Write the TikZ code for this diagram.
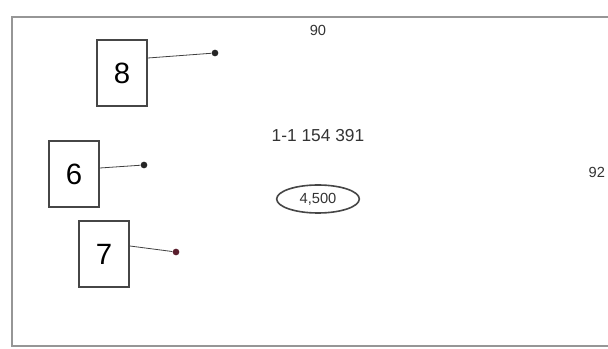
\documentclass[tikz,border=0pt]{standalone}
\usepackage{fontspec}
\setmainfont{Liberation Sans}
\usetikzlibrary{shapes.geometric}
\definecolor{frameGray}{RGB}{150,150,150}
\definecolor{boxGray}{RGB}{70,70,70}
\definecolor{dotRed}{RGB}{90,30,45}

\begin{document}
\begin{tikzpicture}[%
    x=0.75pt, y=-0.75pt,
    numbox/.style={
        draw=boxGray, line width=1.4pt,
        minimum width=37.5pt, minimum height=50pt,
        inner sep=0pt, font=\fontsize{22}{24}\selectfont,
    },
    pin/.style={circle, fill=black!85, inner sep=0pt, minimum size=5pt},
    lead/.style={draw=black!75, line width=0.6pt},
    label/.style={font=\fontsize{11}{13}\selectfont, text=black!80},
]
\useasboundingbox (0,0) rectangle (608,349);

% outer frame
\draw[frameGray, line width=1.5pt] (612,17) -- (12,17) -- (12,346) -- (612,346);

% place boxes
\node[numbox] (box8) at (122,73) {8};
\node[numbox] (box6) at (74,174) {6};
\node[numbox] (box7) at (104,254) {7};

% place pins
\node[pin] (pin8) at (215,53) {};
\node[pin] (pin6) at (144,165) {};
\node[pin, fill=dotRed] (pin7) at (176,252) {};

% draw leads
\draw[lead] (box8.east |- 0,58) -- (pin8);
\draw[lead] (box6.east |- 0,168) -- (pin6);
\draw[lead] (box7.east |- 0,246) -- (pin7);

% place labels
\node[label] (top) at (318,30) {90};
\node[label, font=\fontsize{13}{15}\selectfont] (mid) at (318,136) {1-1 154 391};
\node[label, draw=boxGray, line width=1.2pt, ellipse, minimum width=62pt, minimum height=21pt, inner sep=1pt] (oval) at (318,199) {4,500};
\node[label, anchor=west] (side) at (584,172) {92};

\end{tikzpicture}
\end{document}
